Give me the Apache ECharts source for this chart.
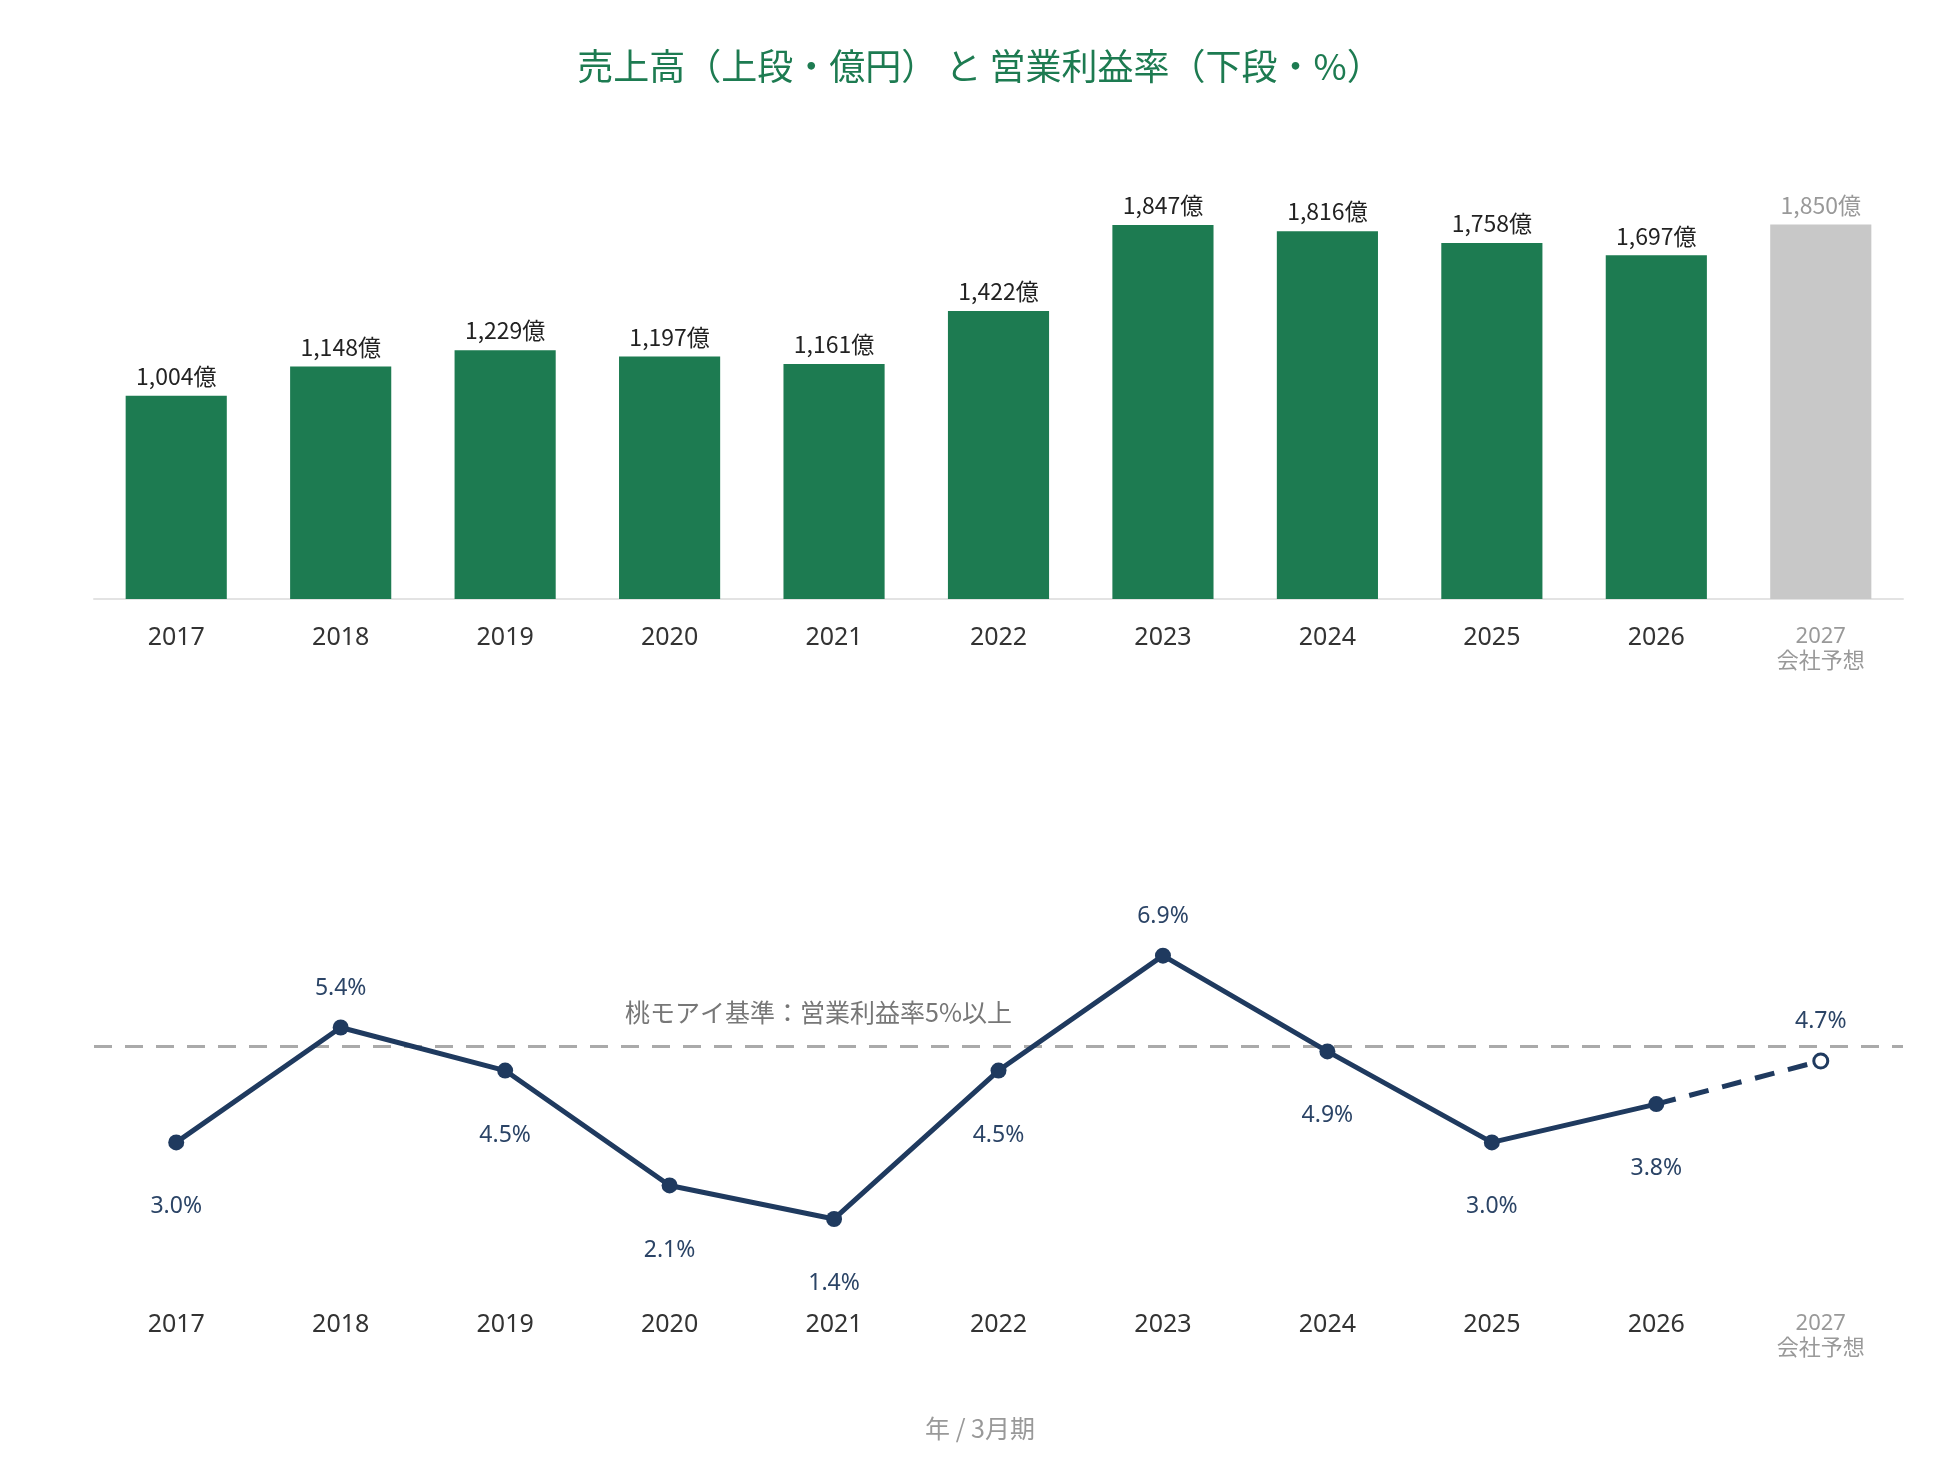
<!DOCTYPE html>
<html><head><meta charset="utf-8">
<script src="https://cdn.jsdelivr.net/npm/echarts@6/dist/echarts.min.js"></script>
<style>html,body{margin:0;padding:0;background:#fff}#c{width:1960px;height:1480px}</style>
</head><body><div id="c"></div>
<script>
const years = ['2017','2018','2019','2020','2021','2022','2023','2024','2025','2026','2027'];
const forecastYear = '2027';
const forecastNote = '会社予想';
const sales = [1004, 1148, 1229, 1197, 1161, 1422, 1847, 1816, 1758, 1697, 1850];
const margin = [3.0, 5.4, 4.5, 2.1, 1.4, 4.5, 6.9, 4.9, 3.0, 3.8, 4.7];
const benchmark = 5;
const benchmarkText = '桃モアイ基準：営業利益率5%以上';
const titleText = '売上高（上段・億円） と 営業利益率（下段・%）';
const footText = '年 / 3月期';

const FONT = '"Noto Sans CJK JP","Noto Sans",sans-serif';
const LFONT = '"Noto Sans","Noto Sans CJK JP",sans-serif';
const GREEN = '#1d7b51', GRAY_BAR = '#c8c8c8', NAVY = '#1f3a5f';
const nF = years.length - 1;

function fmtComma(v){ return v.toString().replace(/\B(?=(\d{3})+(?!\d))/g, ','); }
function isPeak(i){
  const v = margin[i];
  const l = i > 0 ? margin[i-1] : -Infinity;
  const r = i < margin.length - 1 ? margin[i+1] : -Infinity;
  return v > l && v > r;
}

const xLabel = {
  interval: 0, margin: 26, fontSize: 25, color: '#333', fontFamily: LFONT, lineHeight: 25,
  formatter: v => v === forecastYear ? '{g|' + v + '}\n{h|' + forecastNote + '}' : v,
  rich: {
    g: { color: '#999', fontSize: 22, lineHeight: 24, fontFamily: LFONT },
    h: { color: '#999', fontSize: 22, lineHeight: 22, fontFamily: FONT }
  }
};

const barData = sales.map((v, i) => ({
  value: v,
  itemStyle: { color: years[i] === forecastYear ? GRAY_BAR : GREEN },
  label: { color: years[i] === forecastYear ? '#999' : '#222' }
}));

const actualLine = margin.map((v, i) => years[i] === forecastYear ? null : {
  value: v,
  label: isPeak(i) ? { position: 'top', distance: 20 } : { position: 'bottom', distance: 45 }
});
const forecastLine = margin.map((v, i) => {
  if (i === nF) return { value: v, label: { show: true, position: 'top', distance: 20 } };
  if (i === nF - 1) return { value: v, symbol: 'none', label: { show: false } };
  return null;
});

const option = {
  backgroundColor: '#fff',
  animation: false,
  title: [
    { text: titleText, left: 'center', top: 43, textStyle: { color: '#1d7b51', fontSize: 36, fontWeight: 'normal', fontFamily: FONT } },
    { text: footText, left: 'center', top: 1411, textStyle: { color: '#999', fontSize: 25, fontWeight: 'normal', fontFamily: FONT } }
  ],
  grid: [
    { left: 94, right: 57, top: 194, height: 405 },
    { left: 94, right: 57, top: 903, height: 383 }
  ],
  xAxis: [
    { type: 'category', gridIndex: 0, data: years, axisLine: { lineStyle: { color: '#e3e3e3', width: 2 } }, axisTick: { show: false }, axisLabel: xLabel },
    { type: 'category', gridIndex: 1, data: years, axisLine: { show: false }, axisTick: { show: false }, axisLabel: xLabel }
  ],
  yAxis: [
    { type: 'value', gridIndex: 0, min: 0, max: 2000, show: false, splitLine: { show: false } },
    { type: 'value', gridIndex: 1, min: 0, max: 8, show: false, splitLine: { show: false } }
  ],
  series: [
    {
      type: 'bar', xAxisIndex: 0, yAxisIndex: 0, data: barData, barWidth: '61.5%',
      label: { show: true, position: 'top', distance: 8, fontSize: 23, fontFamily: FONT, formatter: p => fmtComma(p.value) + '億' }
    },
    {
      type: 'line', xAxisIndex: 1, yAxisIndex: 1, data: actualLine,
      symbol: 'circle', symbolSize: 16, lineStyle: { color: NAVY, width: 5 }, itemStyle: { color: NAVY },
      label: { show: true, color: '#2b4466', fontSize: 23, fontFamily: LFONT, formatter: p => p.value.toFixed(1) + '%' },
      z: 5,
      markLine: {
        silent: true, symbol: 'none',
        lineStyle: { color: '#aaa', width: 3, type: [18, 13] },
        label: { show: true, position: 'insideMiddleTop', distance: 22, color: '#777', fontSize: 25, fontFamily: FONT,
          formatter: benchmarkText, padding: [0, 360, 0, 0] },
        data: [{ yAxis: benchmark }]
      }
    },
    {
      type: 'line', xAxisIndex: 1, yAxisIndex: 1, data: forecastLine,
      symbol: 'circle', symbolSize: 14,
      lineStyle: { color: NAVY, width: 5, type: [20, 14] },
      itemStyle: { color: '#fff', borderColor: NAVY, borderWidth: 3 },
      label: { show: false, color: '#2b4466', fontSize: 23, fontFamily: LFONT, formatter: p => p.value.toFixed(1) + '%' },
      z: 4
    }
  ]
};
const chart = echarts.init(document.getElementById('c'), null, { renderer: 'canvas' });
chart.setOption(option);
</script></body></html>
